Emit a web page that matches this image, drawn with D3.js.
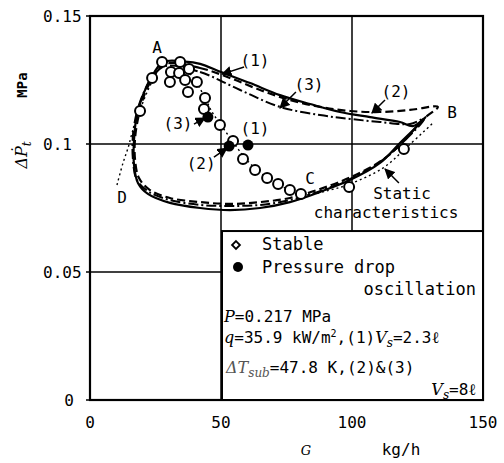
<!DOCTYPE html>
<html>
<head>
<meta charset="utf-8">
<script src="https://cdn.jsdelivr.net/npm/d3@7"></script>
<style>
  body { margin: 0; background: #fff; }
  svg { display: block; }
  text { font-family: "DejaVu Sans Mono", monospace; fill: #000; }
  .it { font-family: "DejaVu Serif", serif; font-style: italic; }
</style>
</head>
<body>
<svg id="chart" width="504" height="463"></svg>
<script>
// Données : G (kg/h), ΔPt (MPa)
const stablePts = [
  [19.1, 0.1129], [23.7, 0.1258], [27.5, 0.1320], [30.9, 0.1281], [30.5, 0.1242],
  [34.4, 0.1320], [34.0, 0.1277], [37.8, 0.1293], [36.3, 0.1250], [40.8, 0.1242],
  [37.4, 0.1203], [43.9, 0.1180], [43.5, 0.1137], [49.6, 0.1074], [54.6, 0.1012],
  [58.4, 0.0941], [63.0, 0.0898], [67.6, 0.0867], [71.8, 0.0844], [76.3, 0.0820],
  [80.5, 0.0805], [98.9, 0.0832], [119.8, 0.0980]
];
const oscPts = [[45.0, 0.1105], [60.3, 0.0996], [53.1, 0.0992]];

// Cycle (1) Vs = 2.3 l : trait plein
const loop1 = [
  [27.9, 0.1320], [36.3, 0.1322], [42.0, 0.1313], [50.0, 0.1281], [61.1, 0.1238],
  [72.5, 0.1191], [84.0, 0.1156], [95.4, 0.1125], [106.9, 0.1105], [118.3, 0.1086],
  [123.3, 0.1070], [128.2, 0.1105], [118.3, 0.1004], [110.7, 0.0926], [99.2, 0.0859],
  [87.8, 0.0813], [76.3, 0.0773], [64.9, 0.0750], [53.4, 0.0742], [42.0, 0.0750],
  [30.5, 0.0770], [22.1, 0.0805], [18.3, 0.0848], [16.8, 0.0918], [16.8, 0.1016],
  [17.9, 0.1113], [20.2, 0.1191], [22.9, 0.1250]
];
// Cycle (2) Vs = 8 l : tirets
const loop2 = [
  [28.6, 0.1313], [42.0, 0.1297], [53.4, 0.1258], [64.9, 0.1211], [76.3, 0.1172],
  [87.8, 0.1145], [99.2, 0.1129], [110.7, 0.1125], [122.1, 0.1133], [132.8, 0.1145],
  [127.5, 0.1100], [119.1, 0.1004], [111.1, 0.0934], [99.6, 0.0871], [87.8, 0.0824],
  [76.3, 0.0789], [64.9, 0.0773], [53.4, 0.0766], [42.0, 0.0773], [30.5, 0.0789],
  [22.9, 0.0820], [18.7, 0.0867], [17.2, 0.0938], [17.2, 0.1023], [18.7, 0.1117],
  [21.0, 0.1199], [24.0, 0.1258]
];
// Cycle (3) Vs = 8 l : trait mixte
const loop3 = [
  [29.0, 0.1305], [42.0, 0.1281], [57.3, 0.1211], [72.5, 0.1145], [87.8, 0.1113],
  [99.2, 0.1098], [110.7, 0.1086], [122.1, 0.1078], [127.5, 0.1098], [118.7, 0.1000],
  [110.7, 0.0930], [99.2, 0.0863], [87.8, 0.0816], [76.3, 0.0781], [64.9, 0.0762],
  [53.4, 0.0758], [42.0, 0.0762], [30.5, 0.0781], [22.5, 0.0813], [17.9, 0.0859],
  [16.4, 0.0938], [16.4, 0.1035], [17.9, 0.1125], [20.6, 0.1203], [24.0, 0.1266]
];
// Caractéristique statique (pointillés)
const staticCurve = [
  [10.3, 0.0840], [12.6, 0.0926], [14.5, 0.0984], [16.4, 0.1055], [19.1, 0.1133],
  [22.9, 0.1227], [27.5, 0.1305], [33.6, 0.1313], [38.9, 0.1266], [43.5, 0.1188],
  [46.6, 0.1125], [50.0, 0.1074], [54.6, 0.1008], [59.2, 0.0945], [64.1, 0.0895],
  [69.5, 0.0855], [76.3, 0.0820], [81.3, 0.0801], [91.6, 0.0820], [99.2, 0.0844],
  [111.8, 0.0906], [121.4, 0.0992], [130.9, 0.1082]
];

const xTicks = [0, 50, 100, 150];
const xTickLabels = ["0", "50", "100", "150"];
const yTicks = [0, 0.05, 0.1, 0.15];
const yTickLabels = ["0", "0.05", "0.1", "0.15"];

// Repères de points : texte, G, ΔPt
const pointLabels = [
  ["A", 25.6, 0.1379], ["B", 138.2, 0.1125], ["C", 84.0, 0.0867], ["D", 12.2, 0.0790],
  ["(1)", 63.0, 0.1328], ["(3)", 83.6, 0.1234], ["(2)", 116.8, 0.1207],
  ["(3)", 33.6, 0.1082], ["(1)", 63.0, 0.1059], ["(2)", 42.4, 0.0926]
];
// Flèches : départ G, ΔPt -> arrivée G, ΔPt
const arrows = [
  [58.8, 0.1301, 50.4, 0.1273], [78.6, 0.1203, 72.5, 0.1141],
  [112.6, 0.1172, 107.6, 0.1121], [39.7, 0.1078, 43.9, 0.1102],
  [47.3, 0.0949, 52.3, 0.0984], [117.9, 0.0848, 112.6, 0.0902]
];

const svg = d3.select("#chart");

const x = d3.scaleLinear().domain([0, 150]).range([90, 483]);
const y = d3.scaleLinear().domain([0, 0.15]).range([400, 16]);

// Grille
svg.selectAll(".vgrid")
  .data([50, 100])
  .enter()
  .append("line")
  .attr("x1", (d) => x(d)).attr("x2", (d) => x(d))
  .attr("y1", y(0.15)).attr("y2", y(0))
  .attr("stroke", "#000").attr("stroke-width", 1.5);
svg.selectAll(".hgrid")
  .data([0.05, 0.1])
  .enter()
  .append("line")
  .attr("x1", x(0)).attr("x2", x(150))
  .attr("y1", (d) => y(d)).attr("y2", (d) => y(d))
  .attr("stroke", "#000").attr("stroke-width", 1.5);

// Cadre
svg.append("rect")
  .attr("x", x(0)).attr("y", y(0.15))
  .attr("width", x(150) - x(0)).attr("height", y(0) - y(0.15))
  .attr("fill", "none").attr("stroke", "#000").attr("stroke-width", 2.2);

// Petites graduations
svg.selectAll(".ytick")
  .data(yTicks)
  .enter()
  .append("line")
  .attr("x1", x(0) - 4).attr("x2", x(0))
  .attr("y1", (d) => y(d)).attr("y2", (d) => y(d))
  .attr("stroke", "#000").attr("stroke-width", 1.5);

svg.selectAll(".xlab")
  .data(xTicks)
  .enter()
  .append("text")
  .attr("x", (d) => x(d))
  .attr("y", 428)
  .attr("text-anchor", "middle")
  .attr("font-size", 16)
  .text((d, i) => xTickLabels[i]);

svg.selectAll(".ylab")
  .data(yTicks)
  .enter()
  .append("text")
  .attr("x", (d) => (d === 0 ? 74 : 43))
  .attr("y", (d) => y(d) + 6)
  .attr("text-anchor", (d) => (d === 0 ? "end" : "start"))
  .attr("font-size", 16)
  .text((d, i) => yTickLabels[i]);

// Titres des axes
svg.append("text")
  .attr("transform", "translate(27,85) rotate(-90)")
  .attr("text-anchor", "middle")
  .attr("font-size", 14)
  .attr("font-weight", "bold")
  .text("MPa");
const yt = svg.append("text")
  .attr("transform", "translate(27,155) rotate(-90)")
  .attr("text-anchor", "middle")
  .attr("font-size", 16)
  .attr("fill", "#555")
  .attr("class", "it");
yt.append("tspan").text("\u0394\u1E56");
yt.append("tspan").attr("dy", 4).attr("font-size", 12).text("t");

svg.append("text")
  .attr("x", 306).attr("y", 455)
  .attr("class", "it")
  .attr("font-size", 13)
  .attr("fill", "#555")
  .attr("text-anchor", "middle")
  .text("G");
svg.append("text")
  .attr("x", 401).attr("y", 455)
  .attr("font-size", 16)
  .attr("text-anchor", "middle")
  .text("kg/h");

// Courbes
const loopLine = d3.line()
  .x((d) => x(d[0]))
  .y((d) => y(d[1]))
  .curve(d3.curveCatmullRomClosed.alpha(0.5));
const openLine = d3.line()
  .x((d) => x(d[0]))
  .y((d) => y(d[1]))
  .curve(d3.curveCatmullRom.alpha(0.5));

svg.append("path").attr("d", loopLine(loop3))
  .attr("fill", "none").attr("stroke", "#000").attr("stroke-width", 2)
  .attr("stroke-dasharray", "10,3,2,3");
svg.append("path").attr("d", loopLine(loop2))
  .attr("fill", "none").attr("stroke", "#000").attr("stroke-width", 2.2)
  .attr("stroke-dasharray", "8,4");
svg.append("path").attr("d", loopLine(loop1))
  .attr("fill", "none").attr("stroke", "#000").attr("stroke-width", 2.2);
svg.append("path").attr("d", openLine(staticCurve))
  .attr("fill", "none").attr("stroke", "#000").attr("stroke-width", 1.4)
  .attr("stroke-dasharray", "2,3");

// Points
svg.selectAll(".stable")
  .data(stablePts)
  .enter()
  .append("circle")
  .attr("cx", (d) => x(d[0]))
  .attr("cy", (d) => y(d[1]))
  .attr("r", 5)
  .attr("fill", "#fff")
  .attr("stroke", "#000")
  .attr("stroke-width", 2);
svg.selectAll(".osc")
  .data(oscPts)
  .enter()
  .append("circle")
  .attr("cx", (d) => x(d[0]))
  .attr("cy", (d) => y(d[1]))
  .attr("r", 5.5)
  .attr("fill", "#000");

// Flèches
svg.append("defs").append("marker")
  .attr("id", "arr")
  .attr("viewBox", "0 0 10 10")
  .attr("refX", 9).attr("refY", 5)
  .attr("markerWidth", 7).attr("markerHeight", 7)
  .attr("orient", "auto")
  .append("path")
  .attr("d", "M0,0L10,5L0,10z")
  .attr("fill", "#000");

svg.selectAll(".arrow")
  .data(arrows)
  .enter()
  .append("line")
  .attr("x1", (d) => x(d[0])).attr("y1", (d) => y(d[1]))
  .attr("x2", (d) => x(d[2])).attr("y2", (d) => y(d[3]))
  .attr("stroke", "#000").attr("stroke-width", 1.5)
  .attr("marker-end", "url(#arr)");

svg.selectAll(".plab")
  .data(pointLabels)
  .enter()
  .append("text")
  .attr("x", (d) => x(d[1]))
  .attr("y", (d) => y(d[2]))
  .attr("dy", "0.35em")
  .attr("text-anchor", "middle")
  .attr("font-size", 16)
  .text((d) => d[0]);

svg.append("text")
  .attr("x", x(119.1)).attr("y", y(0.0785))
  .attr("text-anchor", "middle").attr("font-size", 16)
  .text("Static");
svg.append("text")
  .attr("x", x(113.0)).attr("y", y(0.0711))
  .attr("text-anchor", "middle").attr("font-size", 16)
  .text("characteristics");

// Légende
const lg = svg.append("g");
lg.append("rect")
  .attr("x", x(50) + 1).attr("y", y(0.066))
  .attr("width", x(150) - x(50) - 1).attr("height", y(0) - y(0.066))
  .attr("fill", "#fff").attr("stroke", "#000").attr("stroke-width", 2);

lg.append("path")
  .attr("d", d3.symbol().type(d3.symbolDiamond2).size(40)())
  .attr("transform", "translate(236,245)")
  .attr("fill", "#fff").attr("stroke", "#000").attr("stroke-width", 1.8);
lg.append("text").attr("x", 262).attr("y", 250).attr("font-size", 17).text("Stable");
lg.append("circle").attr("cx", 238).attr("cy", 267).attr("r", 5).attr("fill", "#000");
lg.append("text").attr("x", 262).attr("y", 273).attr("font-size", 17).text("Pressure drop");
lg.append("text").attr("x", 476).attr("y", 295).attr("font-size", 17)
  .attr("text-anchor", "end").text("oscillation");

const l1 = lg.append("text").attr("x", 224).attr("y", 322).attr("font-size", 16);
l1.append("tspan").attr("class", "it").text("P");
l1.append("tspan").text("=0.217 MPa");

const l2 = lg.append("text").attr("x", 224).attr("y", 343).attr("font-size", 16);
l2.append("tspan").attr("class", "it").text("q");
l2.append("tspan").text("=35.9 kW/m");
l2.append("tspan").attr("dy", -6).attr("font-size", 10).text("2");
l2.append("tspan").attr("dy", 6).text(",(1)");
l2.append("tspan").attr("class", "it").text("V");
l2.append("tspan").attr("class", "it").attr("dy", 4).attr("font-size", 12).text("s");
l2.append("tspan").attr("dy", -4).text("=2.3\u2113");

const l3 = lg.append("text").attr("x", 226).attr("y", 373).attr("font-size", 16);
l3.append("tspan").attr("class", "it").attr("fill", "#555").text("\u0394T");
l3.append("tspan").attr("class", "it").attr("dy", 4).attr("font-size", 12).attr("fill", "#555").text("sub");
l3.append("tspan").attr("dy", -4).text("=47.8 K,(2)&(3)");

const l4 = lg.append("text").attr("x", 476).attr("y", 395).attr("font-size", 16)
  .attr("text-anchor", "end");
l4.append("tspan").attr("class", "it").text("V");
l4.append("tspan").attr("class", "it").attr("dy", 4).attr("font-size", 12).text("s");
l4.append("tspan").attr("dy", -4).text("=8\u2113");
</script>
</body>
</html>
